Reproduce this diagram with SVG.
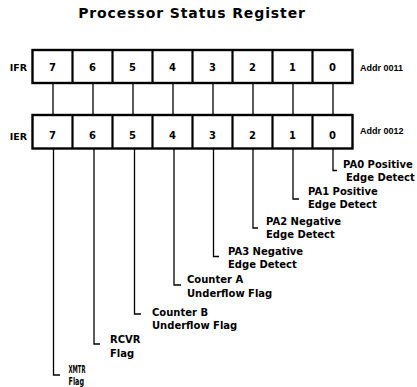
<svg xmlns="http://www.w3.org/2000/svg" width="417" height="387" viewBox="0 0 417 387">
<style>
text{font-family:"DejaVu Sans","Liberation Sans",sans-serif;font-weight:bold;fill:#000}
.title{font-size:14px;letter-spacing:0.9px}
.bit{font-size:10px;text-anchor:middle}
.reg{font-size:9.5px;text-anchor:end}
.addr{font-family:"Liberation Sans",Arial,sans-serif;font-size:9px}
.lbl{font-size:10px}
.box{fill:#fff;stroke:#000;stroke-width:2.4}
.conn{fill:none;stroke:#000;stroke-width:1.3}
</style>
<rect width="417" height="387" fill="#fff"/>
<text class="title" x="192" y="18.3" text-anchor="middle">Processor Status Register</text>

<g id="connectors">
<path class="conn" d="M53 83V115M93 83V115M133 83V115M173 83V115M213 83V115M253 83V115M293 83V115M333 83V115"/>
<path class="conn" d="M333 148.5V170.5H337"/>
<path class="conn" d="M293 148.5V199H299"/>
<path class="conn" d="M253 148.5V228H258"/>
<path class="conn" d="M213.5 148.5V256.5H219"/>
<path class="conn" d="M174 148.5V285H181"/>
<path class="conn" d="M134.5 148.5V314H141"/>
<path class="conn" d="M94 148.5V344H100"/>
<path class="conn" d="M53.5 148.5V375H60"/>
</g>

<g id="ifr">
<rect class="box" x="32.5" y="50" width="320" height="33"/>
<path class="conn" style="stroke-width:2.2" d="M72.5 50V83M112.5 50V83M152.5 50V83M192.5 50V83M232.5 50V83M272.5 50V83M312.5 50V83"/>
<text class="reg" x="27" y="70.5">IFR</text>
<text class="bit" x="52.5" y="71">7</text>
<text class="bit" x="92.5" y="71">6</text>
<text class="bit" x="132.5" y="71">5</text>
<text class="bit" x="172.5" y="71">4</text>
<text class="bit" x="212.5" y="71">3</text>
<text class="bit" x="252.5" y="71">2</text>
<text class="bit" x="292.5" y="71">1</text>
<text class="bit" x="332.5" y="71">0</text>
<text class="addr" x="360" y="70.7">Addr 0011</text>
</g>

<g id="ier">
<rect class="box" x="32.5" y="115" width="320" height="33.5"/>
<path class="conn" style="stroke-width:2.2" d="M72.5 115V148.5M112.5 115V148.5M152.5 115V148.5M192.5 115V148.5M232.5 115V148.5M272.5 115V148.5M312.5 115V148.5"/>
<text class="reg" x="27" y="139.5">IER</text>
<text class="bit" x="52.5" y="138.5">7</text>
<text class="bit" x="92.5" y="138.5">6</text>
<text class="bit" x="132.5" y="138.5">5</text>
<text class="bit" x="172.5" y="138.5">4</text>
<text class="bit" x="212.5" y="138.5">3</text>
<text class="bit" x="252.5" y="138.5">2</text>
<text class="bit" x="292.5" y="138.5">1</text>
<text class="bit" x="332.5" y="138.5">0</text>
<text class="addr" x="360" y="134.3">Addr 0012</text>
</g>

<g id="bit0"><text class="lbl" x="343" y="168.3">PA0 Positive</text><text class="lbl" x="346" y="181">Edge Detect</text></g>
<g id="bit1"><text class="lbl" x="308" y="195">PA1 Positive</text><text class="lbl" x="308" y="208.3">Edge Detect</text></g>
<g id="bit2"><text class="lbl" x="266" y="225">PA2 Negative</text><text class="lbl" x="266" y="237.7">Edge Detect</text></g>
<g id="bit3"><text class="lbl" x="228" y="255">PA3 Negative</text><text class="lbl" x="228" y="267.5">Edge Detect</text></g>
<g id="bit4"><text class="lbl" x="187" y="283.3">Counter A</text><text class="lbl" x="187" y="296.7">Underflow Flag</text></g>
<g id="bit5"><text class="lbl" x="152" y="316">Counter B</text><text class="lbl" x="152" y="329.3">Underflow Flag</text></g>
<g id="bit6"><text class="lbl" x="110" y="342.7">RCVR</text><text class="lbl" x="110" y="357">Flag</text></g>
<g id="bit7"><text class="lbl" x="68.5" y="372.7" textLength="17" lengthAdjust="spacingAndGlyphs">XMTR</text><text class="lbl" x="68.5" y="385" textLength="15.5" lengthAdjust="spacingAndGlyphs">Flag</text></g>
</svg>
